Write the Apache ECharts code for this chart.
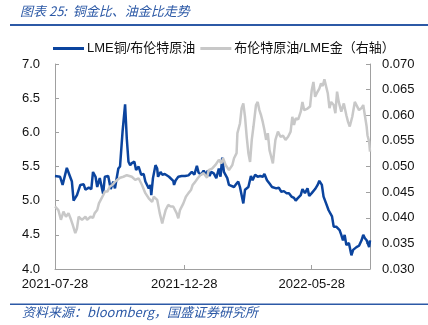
<!DOCTYPE html>
<html><head><meta charset="utf-8">
<script src="https://cdn.jsdelivr.net/npm/echarts@6/dist/echarts.min.js"></script>
<style>html,body{margin:0;padding:0;background:#fff}#c{width:428px;height:325px}</style>
</head><body><div id="c"></div>
<script>
const titleText = '图表 25:  铜金比、油金比走势';
const sourceText = '资料来源：bloomberg，国盛证券研究所';
const seriesNames = ['LME铜/布伦特原油', '布伦特原油/LME金（右轴）'];
const xTickLabels = ['2021-07-28', '2021-12-28', '2022-05-28'];
const xRange = ['2021-07-28', '2022-08-05'];

const copperOilDates = ['2021-07-28','2021-08-03','2021-08-06','2021-08-11','2021-08-14','2021-08-17','2021-08-19','2021-08-23','2021-08-27','2021-08-31','2021-09-02','2021-09-06','2021-09-09','2021-09-11','2021-09-14','2021-09-16','2021-09-19','2021-09-23','2021-09-25','2021-09-29','2021-10-02','2021-10-05','2021-10-07','2021-10-11','2021-10-13','2021-10-16','2021-10-19','2021-10-21','2021-10-23','2021-10-25','2021-10-27','2021-10-30','2021-11-01','2021-11-04','2021-11-07','2021-11-10','2021-11-12','2021-11-14','2021-11-16','2021-11-18','2021-11-19','2021-11-21','2021-11-24','2021-11-26','2021-11-27','2021-11-30','2021-12-02','2021-12-05','2021-12-07','2021-12-10','2021-12-12','2021-12-15','2021-12-16','2021-12-18','2021-12-21','2021-12-25','2021-12-29','2022-01-02','2022-01-06','2022-01-09','2022-01-12','2022-01-14','2022-01-17','2022-01-20','2022-01-23','2022-01-25','2022-01-27','2022-01-29','2022-02-01','2022-02-04','2022-02-07','2022-02-09','2022-02-11','2022-02-13','2022-02-15','2022-02-17','2022-02-19','2022-02-21','2022-02-25','2022-02-28','2022-03-02','2022-03-04','2022-03-06','2022-03-08','2022-03-10','2022-03-12','2022-03-14','2022-03-17','2022-03-19','2022-03-22','2022-03-25','2022-03-28','2022-03-31','2022-04-02','2022-04-05','2022-04-08','2022-04-11','2022-04-13','2022-04-16','2022-04-19','2022-04-22','2022-04-25','2022-04-28','2022-05-01','2022-05-04','2022-05-07','2022-05-09','2022-05-11','2022-05-15','2022-05-17','2022-05-20','2022-05-23','2022-05-25','2022-05-28','2022-06-01','2022-06-04','2022-06-06','2022-06-09','2022-06-11','2022-06-12','2022-06-14','2022-06-17','2022-06-19','2022-06-21','2022-06-23','2022-06-26','2022-06-28','2022-06-30','2022-07-02','2022-07-04','2022-07-06','2022-07-08','2022-07-11','2022-07-14','2022-07-16','2022-07-18','2022-07-20','2022-07-23','2022-07-26','2022-07-28','2022-07-30','2022-08-01','2022-08-03','2022-08-04','2022-08-05'];
const copperOil = [5.36,5.35,5.23,5.48,5.38,5.28,5.00,5.08,5.23,5.24,5.16,5.19,5.17,5.42,5.35,5.20,5.33,5.10,5.35,5.36,5.17,5.28,5.18,5.47,5.50,6.01,6.41,5.91,5.57,5.52,5.55,5.57,5.45,5.50,5.38,5.39,5.28,5.27,5.18,5.23,5.08,5.33,5.52,5.47,5.35,5.42,5.38,5.39,5.38,5.35,5.37,5.29,5.23,5.30,5.35,5.36,5.36,5.37,5.42,5.38,5.51,5.41,5.38,5.44,5.38,5.44,5.36,5.42,5.40,5.33,5.47,5.35,5.63,5.42,5.40,5.33,5.23,5.25,5.20,5.25,5.28,5.20,5.22,4.96,5.16,5.14,5.20,5.36,5.30,5.38,5.35,5.36,5.35,5.39,5.30,5.25,5.20,5.22,5.18,5.19,5.13,5.14,5.11,5.11,5.06,5.04,5.00,5.03,5.08,5.17,5.11,5.18,5.07,5.11,5.17,5.23,5.29,5.23,5.06,5.07,4.96,4.86,4.84,4.77,4.62,4.62,4.63,4.57,4.50,4.42,4.50,4.35,4.38,4.20,4.28,4.26,4.32,4.34,4.42,4.50,4.45,4.42,4.40,4.32,4.42];

const oilGoldDates = ['2021-07-28','2021-08-01','2021-08-04','2021-08-07','2021-08-10','2021-08-13','2021-08-16','2021-08-18','2021-08-21','2021-08-23','2021-08-25','2021-08-29','2021-09-02','2021-09-04','2021-09-08','2021-09-11','2021-09-13','2021-09-16','2021-09-18','2021-09-20','2021-09-23','2021-09-25','2021-09-28','2021-10-01','2021-10-04','2021-10-07','2021-10-10','2021-10-13','2021-10-17','2021-10-21','2021-10-27','2021-10-31','2021-11-04','2021-11-08','2021-11-12','2021-11-16','2021-11-20','2021-11-22','2021-11-26','2021-11-29','2021-12-02','2021-12-03','2021-12-06','2021-12-09','2021-12-12','2021-12-15','2021-12-19','2021-12-21','2021-12-23','2021-12-27','2021-12-30','2022-01-02','2022-01-05','2022-01-07','2022-01-10','2022-01-13','2022-01-16','2022-01-20','2022-01-24','2022-01-26','2022-01-30','2022-02-03','2022-02-07','2022-02-10','2022-02-12','2022-02-15','2022-02-19','2022-02-23','2022-02-25','2022-02-28','2022-03-01','2022-03-04','2022-03-06','2022-03-08','2022-03-10','2022-03-12','2022-03-14','2022-03-16','2022-03-18','2022-03-20','2022-03-23','2022-03-25','2022-03-27','2022-03-29','2022-03-31','2022-04-02','2022-04-04','2022-04-06','2022-04-08','2022-04-10','2022-04-12','2022-04-15','2022-04-18','2022-04-21','2022-04-24','2022-04-27','2022-04-30','2022-05-03','2022-05-05','2022-05-07','2022-05-09','2022-05-12','2022-05-15','2022-05-17','2022-05-19','2022-05-21','2022-05-23','2022-05-26','2022-05-28','2022-05-30','2022-06-01','2022-06-03','2022-06-06','2022-06-08','2022-06-10','2022-06-12','2022-06-14','2022-06-16','2022-06-18','2022-06-20','2022-06-23','2022-06-25','2022-06-27','2022-06-29','2022-07-02','2022-07-05','2022-07-08','2022-07-10','2022-07-12','2022-07-15','2022-07-18','2022-07-20','2022-07-23','2022-07-26','2022-07-28','2022-07-30','2022-08-01','2022-08-02','2022-08-04','2022-08-05'];
const oilGold = [0.0422,0.0415,0.0396,0.0412,0.0402,0.0409,0.0396,0.0386,0.0370,0.0379,0.0402,0.0396,0.0402,0.0396,0.0402,0.0400,0.0409,0.0415,0.0428,0.0431,0.0444,0.0451,0.0451,0.0461,0.0464,0.0470,0.0474,0.0478,0.0480,0.0483,0.0480,0.0474,0.0477,0.0464,0.0448,0.0438,0.0431,0.0441,0.0435,0.0409,0.0389,0.0396,0.0415,0.0425,0.0422,0.0422,0.0409,0.0399,0.0415,0.0428,0.0441,0.0448,0.0454,0.0464,0.0470,0.0477,0.0483,0.0487,0.0478,0.0493,0.0496,0.0503,0.0513,0.0506,0.0516,0.0503,0.0493,0.0503,0.0516,0.0526,0.0565,0.0584,0.0614,0.0623,0.0597,0.0558,0.0526,0.0509,0.0552,0.0578,0.0620,0.0626,0.0610,0.0600,0.0587,0.0571,0.0552,0.0565,0.0532,0.0519,0.0506,0.0552,0.0568,0.0558,0.0560,0.0552,0.0558,0.0568,0.0597,0.0581,0.0594,0.0592,0.0607,0.0626,0.0610,0.0610,0.0613,0.0617,0.0649,0.0665,0.0636,0.0643,0.0652,0.0662,0.0657,0.0670,0.0672,0.0643,0.0614,0.0626,0.0620,0.0604,0.0646,0.0626,0.0607,0.0623,0.0600,0.0587,0.0578,0.0597,0.0626,0.0623,0.0610,0.0614,0.0620,0.0623,0.0578,0.0561,0.0548,0.0529];

function ts(s){ const p = s.split('-').map(Number); return new Date(p[0], p[1]-1, p[2]).getTime(); }
function fmt(v){ const d = new Date(v); const z = n => (n<10?'0':'')+n; return d.getFullYear()+'-'+z(d.getMonth()+1)+'-'+z(d.getDate()); }

const BLUE = '#0B449E', GRAY = '#C8C8C8', AXIS = '#A0A0A0', HEAD = '#2C59A6';
const tickVals = xTickLabels.map(ts);
const chart = echarts.init(document.getElementById('c'), null, {renderer:'canvas'});
chart.setOption({
  animation: false,
  backgroundColor: '#fff',
  textStyle: {fontFamily: '"Liberation Sans", Arial, "Noto Sans CJK SC", sans-serif'},
  graphic: [
    {type:'text', left: 20, top: 5, style:{text: titleText, fill: HEAD, font: 'italic 13px "Noto Sans CJK SC", sans-serif'}},
    {type:'rect', shape:{x:10, y:24, width:418, height:2}, style:{fill: HEAD}},
    {type:'rect', shape:{x:10, y:303.5, width:418, height:1.5}, style:{fill: HEAD}},
    {type:'text', left: 22, top: 306, style:{text: sourceText, fill: HEAD, font: 'italic 13px "Noto Sans CJK SC", sans-serif'}}
  ],
  legend: {
    left: 53, top: 42, itemGap: 5, itemWidth: 31, itemHeight: 3, icon: 'rect', padding: 0,
    textStyle: {fontSize: 13, color: '#111', padding: [0,0,0,-2], fontFamily: '"Liberation Sans", "Noto Sans CJK SC", sans-serif'},
    data: seriesNames
  },
  grid: {left: 55, right: 58, top: 64, bottom: 56},
  xAxis: {
    type: 'value', min: ts(xRange[0]), max: ts(xRange[1]),
    axisLine: {lineStyle: {color: AXIS}},
    axisTick: {show: true, inside: true, length: 4, customValues: tickVals, lineStyle: {color: AXIS}},
    axisLabel: {customValues: tickVals, formatter: v => fmt(v), color: '#111', fontSize: 13, margin: 9, showMinLabel: true, showMaxLabel: true, hideOverlap: false},
    splitLine: {show: false}
  },
  yAxis: [
    {type: 'value', min: 4, max: 7, interval: 0.5, position: 'left',
     axisLine: {show: true, lineStyle: {color: AXIS}},
     axisTick: {show: true, inside: true, length: 4, lineStyle: {color: AXIS}},
     axisLabel: {formatter: v => v.toFixed(1), color: '#111', fontSize: 13, margin: 15},
     splitLine: {show: false}},
    {type: 'value', min: 0.03, max: 0.07, interval: 0.005, position: 'right',
     axisLine: {show: true, lineStyle: {color: AXIS}},
     axisTick: {show: true, inside: true, length: 4, lineStyle: {color: AXIS}},
     axisLabel: {formatter: v => v.toFixed(3), color: '#111', fontSize: 13, margin: 12},
     splitLine: {show: false}}
  ],
  series: [
    {name: seriesNames[0], type: 'line', yAxisIndex: 0, showSymbol: false, symbol: 'none',
     lineStyle: {color: BLUE, width: 2.5}, itemStyle: {color: BLUE},
     data: copperOilDates.map((d,i) => [ts(d), copperOil[i]])},
    {name: seriesNames[1], type: 'line', yAxisIndex: 1, showSymbol: false, symbol: 'none',
     lineStyle: {color: GRAY, width: 2.5}, itemStyle: {color: GRAY},
     data: oilGoldDates.map((d,i) => [ts(d), oilGold[i]])}
  ]
});
</script></body></html>
